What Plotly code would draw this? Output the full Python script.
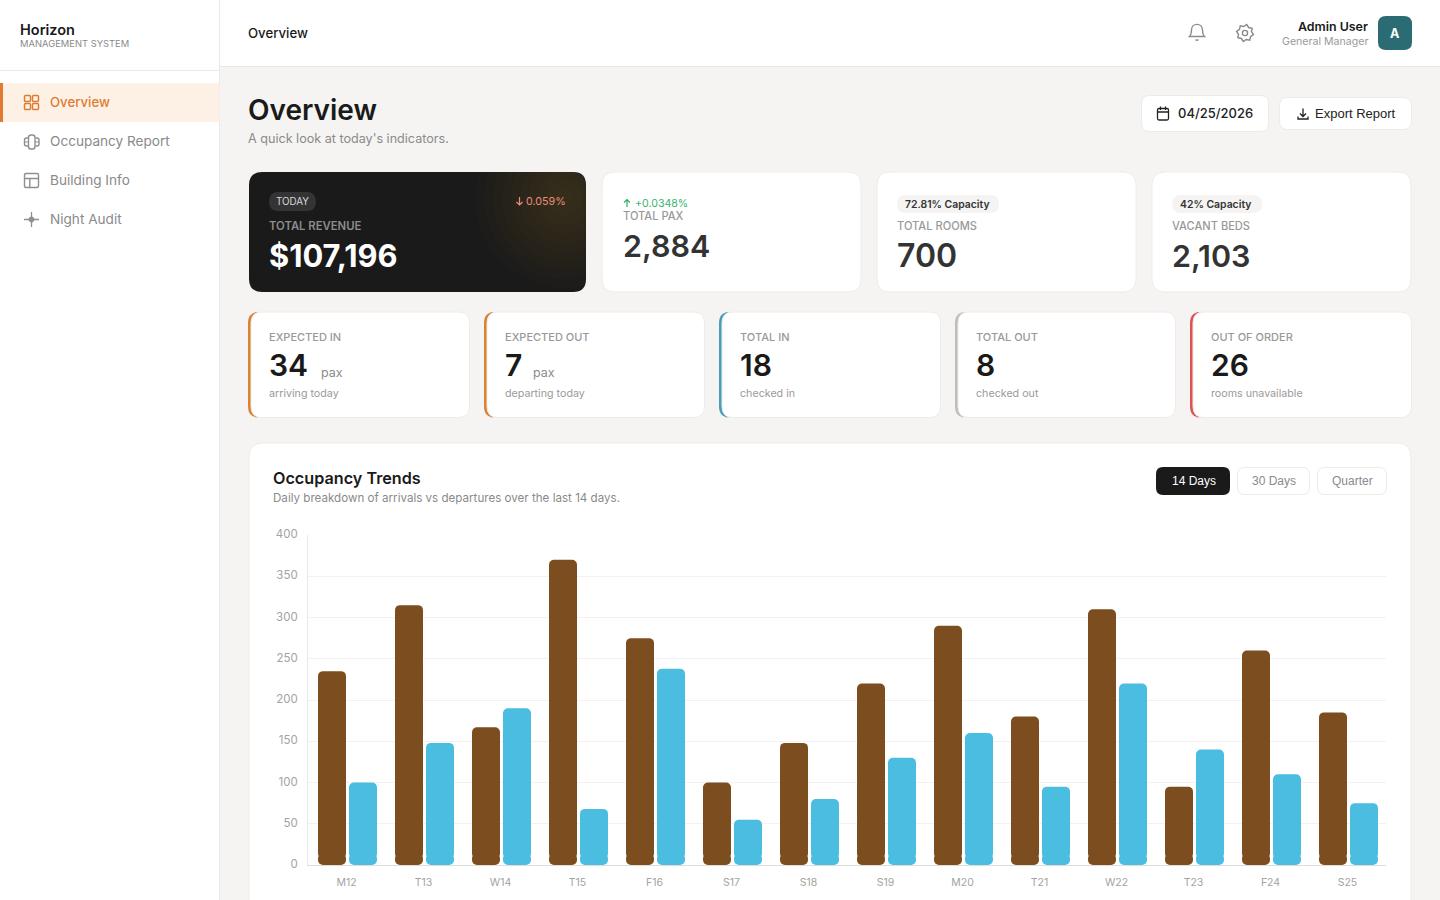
"""Horizon overview dashboard with the occupancy trends bar chart."""
import math
import re

import plotly.graph_objects as go

W, H = 1440, 900

# chart data
days = ["M12", "T13", "W14", "T15", "F16", "S17", "S18", "S19", "M20", "T21", "W22", "T23", "F24", "S25"]
arrivals = [235, 315, 167, 370, 275, 100, 148, 220, 290, 180, 310, 95, 260, 185]
departures = [100, 148, 190, 68, 238, 55, 80, 130, 160, 95, 220, 140, 110, 75]
y_ticks = [0, 50, 100, 150, 200, 250, 300, 350, 400]

# chart plot box, in page pixels
PLOT_X0, PLOT_X1 = 308, 1386
PLOT_TOP, PLOT_BOTTOM = 535, 865

SANS = "Inter"
ARIAL = "Liberation Sans"
BROWN = "#7b4d1f"
SKY = "#4abde0"
BG = "#f5f4f2"
ORANGE = "#e07b30"

shapes = []
notes = []


def px(x):
    return x / W


def py(y):
    return 1 - y / H


def to_paper(path):
    # svg path written in page pixels -> paper coordinates
    nums = re.split(r"([MLCQZ])", path)
    out = []
    for chunk in nums:
        if chunk in ("M", "L", "C", "Q", "Z"):
            out.append(chunk)
        elif chunk.strip():
            vals = [float(v) for v in chunk.replace(",", " ").split()]
            pairs = [f"{px(vals[i]):.6f},{py(vals[i + 1]):.6f}" for i in range(0, len(vals), 2)]
            out.append(" ".join(pairs))
    return " ".join(out)


def add_path(path, fill=None, line=None, width=1, opacity=1):
    shapes.append(dict(
        type="path", xref="paper", yref="paper", layer="below", path=to_paper(path),
        fillcolor=fill or "rgba(0,0,0,0)", opacity=opacity,
        line=dict(color=line or "rgba(0,0,0,0)", width=width if line else 0),
    ))


def round_rect(x0, y0, x1, y1, r):
    return (
        f"M {x0 + r} {y0} L {x1 - r} {y0} Q {x1} {y0} {x1} {y0 + r} L {x1} {y1 - r} "
        f"Q {x1} {y1} {x1 - r} {y1} L {x0 + r} {y1} Q {x0} {y1} {x0} {y1 - r} "
        f"L {x0} {y0 + r} Q {x0} {y0} {x0 + r} {y0} Z"
    )


def box(x0, y0, x1, y1, r=0, fill="#ffffff", line=None, width=1):
    add_path(round_rect(x0, y0, x1, y1, r), fill=fill, line=line, width=width)


def text(x, y, s, size, color, weight=400, anchor="left", family=SANS):
    # annotations keep 1px of padding round the text
    nudge = {"left": -1, "right": 1, "center": 0}[anchor]
    notes.append(dict(
        x=px(x + nudge), y=py(y), xref="paper", yref="paper", text=s, showarrow=False,
        xanchor=anchor, yanchor="middle", borderpad=0,
        font=dict(size=size, color=color, family=family, weight=weight),
    ))


def circle(cx, cy, r):
    k = 0.5523 * r
    return (
        f"M {cx + r} {cy} C {cx + r} {cy + k} {cx + k} {cy + r} {cx} {cy + r} "
        f"C {cx - k} {cy + r} {cx - r} {cy + k} {cx - r} {cy} "
        f"C {cx - r} {cy - k} {cx - k} {cy - r} {cx} {cy - r} "
        f"C {cx + k} {cy - r} {cx + r} {cy - k} {cx + r} {cy} Z"
    )


def glow(cx, cy, radius, rect, corner, color, steps=10, alpha=0.025):
    # stacked translucent discs, clipped to the card
    x0, y0, x1, y1 = rect
    for s in range(steps):
        r = radius * (1 - s / steps)
        pts = []
        for i in range(72):
            a = 2 * math.pi * i / 72
            x = min(max(cx + r * math.cos(a), x0), x1)
            y = min(max(cy + r * math.sin(a), y0), y1)
            ccx, ccy = x1 - corner, y0 + corner
            if x > ccx and y < ccy:
                d = math.hypot(x - ccx, y - ccy)
                if d > corner:
                    x, y = ccx + (x - ccx) * corner / d, ccy + (y - ccy) * corner / d
            pts.append(f"{x:.2f} {y:.2f}")
        add_path("M " + " L ".join(pts) + " Z", fill=color, opacity=alpha)


# page frame
box(0, 0, W, H, fill=BG)
box(0, 0, 219.5, H, fill="#ffffff")
box(220, 0, W, 66.5, fill="#ffffff")
add_path("M 219.5 0 L 219.5 900", line="#ebe9e6")
add_path("M 0 70.5 L 219 70.5", line="#ebe9e6")
add_path("M 220 66.5 L 1440 66.5", line="#ebe9e6")

# sidebar
text(20, 30, "Horizon", 14.5, "#1a1a1a", 600)
text(20, 43.5, "MANAGEMENT SYSTEM", 9.4, "#8a8a8a")
box(0, 83, 219.5, 122, fill="#fdf1e6")
box(0, 83, 3, 122, fill=ORANGE)
nav_labels = ["Overview", "Occupancy Report", "Building Info", "Night Audit"]
nav_y = [102, 141, 180, 219]
for label, y, color in zip(nav_labels, nav_y, [ORANGE, "#8a8a8a", "#8a8a8a", "#8a8a8a"]):
    text(50, y, label, 13.2 if color == ORANGE else 13.6, color, 500 if color == ORANGE else 400)

# sidebar icons
for x0, y0 in [(24.5, 95.5), (32.5, 95.5), (24.5, 103.5), (32.5, 103.5)]:
    box(x0, y0, x0 + 6, y0 + 6, r=1, fill=None, line=ORANGE, width=1.5)
GREY_ICON = "#8f8f8f"
box(28.5, 135, 35, 149, r=2.5, fill=None, line=GREY_ICON, width=1.4)
add_path("M 28 138 L 26.5 138 Q 24.5 138 24.5 140 L 24.5 144 Q 24.5 146 26.5 146 L 28 146", line=GREY_ICON, width=1.4)
add_path("M 35.5 138 L 37 138 Q 39 138 39 140 L 39 144 Q 39 146 37 146 L 35.5 146", line=GREY_ICON, width=1.4)
add_path("M 24.5 142 L 28.5 142 M 35 142 L 39 142", line=GREY_ICON, width=1.2)
box(24.5, 173.5, 38.5, 187.5, r=1.5, fill=None, line=GREY_ICON, width=1.4)
add_path("M 24.5 178.5 L 38.5 178.5 M 29.8 178.5 L 29.8 187.5", line=GREY_ICON, width=1.4)
add_path("M 24 219.5 L 39 219.5 M 31.5 212 L 31.5 227", line=GREY_ICON, width=1.3)
add_path(circle(31.5, 219.5, 3), fill=GREY_ICON)

# top bar
text(248, 33, "Overview", 13.2, "#1a1a1a", 500)
add_path("M 1189.5 36.5 Q 1191.5 34.5 1191.5 30 C 1191.5 22.5 1202.5 22.5 1202.5 30 "
         "Q 1202.5 34.5 1204.5 36.5 Z", line="#8a8a8a", width=1.4)
add_path("M 1195.5 39.5 Q 1197 41 1198.5 39.5", line="#8a8a8a", width=1.4)
add_path(circle(1245, 33, 2.6), line="#8a8a8a", width=1.4)
gear = []
for i in range(16):
    ang = 2 * math.pi * i / 16 + math.pi / 16
    rad = 8.6 if i % 2 == 0 else 6.6
    gear.append(f"{1245 + rad * math.cos(ang):.2f} {33 + rad * math.sin(ang):.2f}")
add_path("M " + " L ".join(gear) + " Z", line="#8a8a8a", width=1.4)
text(1368, 26.5, "Admin User", 12.4, "#1a1a1a", 600, "right")
text(1368, 41, "General Manager", 10.6, "#9a9a9a", 400, "right")
box(1378, 16, 1412, 50, r=8, fill="#2b6c74")
text(1395, 33.5, "A", 12.5, "#ffffff", 700, "center")

# page heading
text(248, 109.5, "Overview", 28, "#1a1a1a", 600)
text(248, 138.5, "A quick look at today's indicators.", 12.6, "#8a8a8a")
box(1141.5, 95.5, 1268.5, 131.5, r=8, line="#ecebe8")
box(1157.5, 108.5, 1168.5, 120, r=1.5, fill=None, line="#222222", width=1.3)
add_path("M 1157.5 112 L 1168.5 112 M 1160.5 106.5 L 1160.5 110 M 1165.5 106.5 L 1165.5 110", line="#222222", width=1.3)
text(1178, 113.5, "04/25/2026", 13, "#222222", 500)
box(1279.5, 97.5, 1411.5, 129.5, r=8, line="#ecebe8")
add_path("M 1303 108.5 L 1303 116 M 1300 113.5 L 1303 116.5 L 1306 113.5 M 1298 116.5 L 1298 119 L 1308 119 L 1308 116.5",
         line="#222222", width=1.3)
text(1315, 113.5, "Export Report", 13, "#222222", 400, family=ARIAL)

# top row of cards
box(249, 172, 586, 292, r=13, fill="#1a1a1a")
glow(565, 198, 90, (249, 172, 586, 292), 13, "#a8753a")
box(269, 192, 316, 211, r=9.5, fill="#343434")
text(292.5, 201.5, "TODAY", 9.8, "#d8d8d8", 400, "center")
add_path("M 519.5 197 L 519.5 205 M 516.5 202 L 519.5 205 L 522.5 202", line="#ec8a7c", width=1.2)
text(566, 201, "0.059%", 10.7, "#ec8a7c", 400, "right")
text(269, 226, "TOTAL REVENUE", 11.3, "#8c8c8c", 600)
text(269, 255, "$107,196", 30.8, "#ffffff", 700)

for x0 in [602, 877, 1152]:
    box(x0, 172, x0 + 259, 292, r=13, line="#eeecea")
add_path("M 627 207 L 627 199.5 M 624 202.5 L 627 199.5 L 630 202.5", line="#2fae66", width=1.2)
text(635, 203.5, "+0.0348%", 10.6, "#3ab26e")
text(623, 216.5, "TOTAL PAX", 11.1, "#999999", 500)
text(623, 246, "2,884", 30.5, "#333333", 600)

box(897, 195, 999, 213, r=9, fill=BG)
text(905, 204, "72.81% Capacity", 10.4, "#333333", 600)
text(897, 226, "TOTAL ROOMS", 11.1, "#999999", 500)
text(897, 255, "700", 32, "#333333", 600)

box(1172, 195, 1262, 213, r=9, fill=BG)
text(1180, 204, "42% Capacity", 10.4, "#333333", 600)
text(1172, 226, "VACANT BEDS", 11.1, "#999999", 500)
text(1172, 255, "2,103", 30.5, "#333333", 600)

# second row of cards
stat_x = [248, 484, 719, 955, 1190]
stat_right = [470, 705, 941, 1176, 1412]
stat_colors = ["#d88232", "#d88232", "#4a9db8", "#bdbdbb", "#e0514f"]
stat_labels = ["EXPECTED IN", "EXPECTED OUT", "TOTAL IN", "TOTAL OUT", "OUT OF ORDER"]
stat_values = ["34", "7", "18", "8", "26"]
stat_notes = ["arriving today", "departing today", "checked in", "checked out", "rooms unavailable"]
for x0, x1, col, lab, val, sub in zip(stat_x, stat_right, stat_colors, stat_labels, stat_values, stat_notes):
    box(x0, 312, x0 + 16, 417.5, r=11, fill=col)
    box(x0 + 3, 312, x1 - 0.5, 417.5, r=11, line="#eeecea")
    text(x0 + 21, 337, lab, 11, "#999999", 500)
    text(x0 + 21, 365, val, 30, "#1a1a1a", 600)
    text(x0 + 21, 393, sub, 10.7, "#9a9a9a")
text(321, 372, "pax", 12.5, "#8a8a8a")
text(533, 372, "pax", 12.5, "#8a8a8a")

# chart card
box(249, 443, 1411, 960, r=14, line="#eeecea")
text(273, 477.5, "Occupancy Trends", 16.2, "#1a1a1a", 600)
text(273, 498, "Daily breakdown of arrivals vs departures over the last 14 days.", 11.6, "#8a8a8a")
box(1156, 467, 1230, 495, r=7, fill="#1a1a1a")
text(1193.5, 481, "14 Days", 12, "#ffffff", 400, "center", ARIAL)
box(1237.5, 467.5, 1309.5, 494.5, r=7, line="#ecebe8")
text(1273.5, 481, "30 Days", 12, "#8a8a8a", 400, "center", ARIAL)
box(1317.5, 467.5, 1386.5, 494.5, r=7, line="#ecebe8")
text(1352, 481, "Quarter", 12, "#8a8a8a", 400, "center", ARIAL)

fig = go.Figure()

# plotly only rounds the far end of a bar, so a short cap rounds the foot of each one
CAT_W = (PLOT_X1 - PLOT_X0) / len(days)
BAR_W = 28 / CAT_W
CAP_TOP, BAR_FOOT = 14, 8
for values, color, left in [(arrivals, BROWN, -28.5 / CAT_W), (departures, SKY, 2.5 / CAT_W)]:
    fig.add_trace(go.Bar(
        x=days, y=[v - BAR_FOOT for v in values], base=[BAR_FOOT] * len(days),
        width=BAR_W, offset=left, marker=dict(color=color, opacity=1, cornerradius=5, line_width=0),
        hoverinfo="skip",
    ))
    fig.add_trace(go.Bar(
        x=days, y=[-CAP_TOP] * len(days), base=[CAP_TOP] * len(days),
        width=BAR_W, offset=left, marker=dict(color=color, opacity=1, cornerradius=5, line_width=0),
        hoverinfo="skip",
    ))

fig.update_layout(
    width=W, height=H, margin=dict(l=0, r=0, t=0, b=0, autoexpand=False), autosize=False,
    paper_bgcolor=BG, plot_bgcolor="rgba(0,0,0,0)",
    barmode="overlay", showlegend=False, shapes=shapes, annotations=notes,
    font=dict(family=SANS, size=11, color="#a3a3a0"),
    xaxis=dict(
        domain=[px(PLOT_X0), px(PLOT_X1)], type="category", range=[-0.5, len(days) - 0.5],
        showgrid=False, showline=True, linecolor="#dddddb", linewidth=1,
        ticks="", ticklabelstandoff=7, tickfont=dict(size=10.5, color="#a3a3a0"), fixedrange=True,
    ),
    yaxis=dict(
        domain=[py(PLOT_BOTTOM), py(PLOT_TOP)], range=[0, 400], tickvals=y_ticks,
        gridcolor="#f3f2f0", gridwidth=1, showline=True, linecolor="#e9e8e5", linewidth=1,
        zeroline=False, ticks="", ticklabelstandoff=7, ticklabelshift=-1,
        tickfont=dict(size=11.5, color="#a3a3a0"), fixedrange=True,
    ),
)

fig.write_html(
    "out.html", config={"displayModeBar": False},
    post_script="document.body.style.margin='0';document.body.style.overflow='hidden';",
)
